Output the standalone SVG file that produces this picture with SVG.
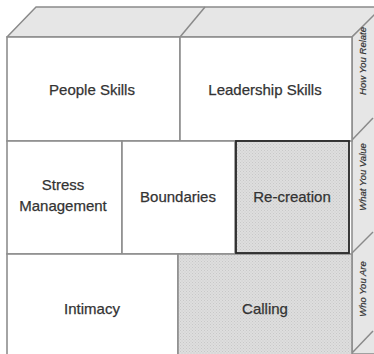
<svg xmlns="http://www.w3.org/2000/svg" width="374" height="354" viewBox="0 0 374 354">
  <defs>
    <pattern id="stip" width="3" height="3" patternUnits="userSpaceOnUse">
      <rect width="3" height="3" fill="#dedede"/>
      <rect x="0" y="0" width="1" height="1" fill="#c8c8c8"/>
      <rect x="1.5" y="1.5" width="1" height="1" fill="#cccccc"/>
    </pattern>
  </defs>
  <style>
    .face { fill: #e6e6e6; stroke: #8a8a8a; stroke-width: 1.5; stroke-linejoin: round; }
    .cell { fill: #ffffff; stroke: #8e8e8e; stroke-width: 1.6; }
    .shade { fill: url(#stip); stroke: #8e8e8e; stroke-width: 1.6; }
    .dark { fill: url(#stip); stroke: #262626; stroke-width: 1.8; }
    .lbl { font-family: "Liberation Sans", Arial, sans-serif; font-size: 15px; fill: #333333; stroke: #333333; stroke-width: 0.25; text-anchor: middle; }
    .side { font-family: "Liberation Sans", Arial, sans-serif; font-size: 9.5px; font-style: italic; fill: #333333; stroke: #333333; stroke-width: 0.2; text-anchor: middle; }
    .edge { stroke: #8a8a8a; stroke-width: 1.5; fill: none; }
  </style>

  <g id="top-face">
    <polygon class="face" points="7,37 36,7 384,7 352,37"/>
    <line class="edge" x1="180" y1="37" x2="205" y2="7"/>
  </g>

  <g id="side-face">
    <polygon class="face" points="352,37 384,5 384,354 352,354"/>
    <line class="edge" x1="352" y1="140" x2="373" y2="118"/>
    <line class="edge" x1="352" y1="253" x2="373" y2="232"/>
    <line class="edge" x1="352" y1="353" x2="373" y2="331"/>
  </g>

  <g id="people-skills">
    <rect class="cell" x="7" y="37" width="173" height="104"/>
    <text class="lbl" x="92" y="95">People Skills</text>
  </g>
  <g id="leadership-skills">
    <rect class="cell" x="180" y="37" width="172" height="104"/>
    <text class="lbl" x="265" y="95">Leadership Skills</text>
  </g>

  <g id="stress-management">
    <rect class="cell" x="7" y="141" width="115" height="113"/>
    <text class="lbl" x="63" y="190">Stress</text>
    <text class="lbl" x="63" y="211">Management</text>
  </g>
  <g id="boundaries">
    <rect class="cell" x="122" y="141" width="113" height="113"/>
    <text class="lbl" x="178" y="202">Boundaries</text>
  </g>

  <g id="intimacy">
    <rect class="cell" x="7" y="254" width="171" height="102"/>
    <text class="lbl" x="92" y="314">Intimacy</text>
  </g>
  <g id="calling">
    <rect class="shade" x="178" y="254" width="174" height="102"/>
    <text class="lbl" x="265" y="314">Calling</text>
  </g>

  <g id="re-creation">
    <rect class="dark" x="236" y="141" width="113" height="112"/>
    <text class="lbl" x="292" y="202">Re-creation</text>
  </g>

  <g id="side-labels">
    <text class="side" transform="translate(366,61) rotate(-90)">How You Relate</text>
    <text class="side" transform="translate(366,177) rotate(-90)">What You Value</text>
    <text class="side" transform="translate(366,289) rotate(-90)">Who You Are</text>
  </g>

  <g id="connectors"></g>
</svg>
